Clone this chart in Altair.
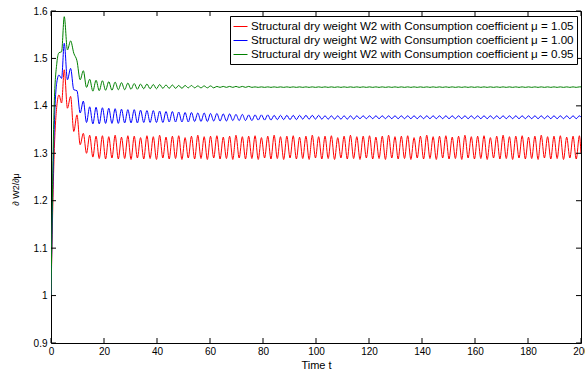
import altair as alt
import pandas as pd

# ---- data ----
labels = [
    "Structural dry weight W2 with Consumption coefficient \u03bc = 1.05",
    "Structural dry weight W2 with Consumption coefficient \u03bc = 1.00",
    "Structural dry weight W2 with Consumption coefficient \u03bc = 0.95",
]
colors = ["#ff0000", "#0000ff", "#008000"]

t = [0.0, 1.2, 2.2, 3.0, 4.0, 5.0, 6.2, 7.4, 8.6, 9.8, 11.0, 12.2,
     13.4, 14.6, 15.8, 17.0, 18.2, 19.4, 20.6, 21.8, 23.0, 24.2,
     25.4, 26.6, 27.8, 29.0, 30.2, 31.4, 32.6, 33.8, 35.0, 36.2,
     37.4, 38.6, 39.8, 41.0, 42.2, 43.4, 44.6, 45.8, 47.0, 48.2,
     49.4, 50.6, 51.8, 53.0, 54.2, 55.4, 56.6, 57.8, 59.0, 60.2,
     61.4, 62.6, 63.8, 65.0, 66.2, 67.4, 68.6, 69.8, 71.0, 72.2,
     73.4, 74.6, 75.8, 77.0, 78.2, 79.4, 80.6, 81.8, 83.0, 84.2,
     85.4, 86.6, 87.8, 89.0, 90.2, 91.4, 92.6, 93.8, 95.0, 96.2,
     97.4, 98.6, 99.8, 101.0, 102.2, 103.4, 104.6, 105.8, 107.0, 108.2,
     109.4, 110.6, 111.8, 113.0, 114.2, 115.4, 116.6, 117.8, 119.0, 120.2,
     121.4, 122.6, 123.8, 125.0, 126.2, 127.4, 128.6, 129.8, 131.0, 132.2,
     133.4, 134.6, 135.8, 137.0, 138.2, 139.4, 140.6, 141.8, 143.0, 144.2,
     145.4, 146.6, 147.8, 149.0, 150.2, 151.4, 152.6, 153.8, 155.0, 156.2,
     157.4, 158.6, 159.8, 161.0, 162.2, 163.4, 164.6, 165.8, 167.0, 168.2,
     169.4, 170.6, 171.8, 173.0, 174.2, 175.4, 176.6, 177.8, 179.0, 180.2,
     181.4, 182.6, 183.8, 185.0, 186.2, 187.4, 188.6, 189.8, 191.0, 192.2,
     193.4, 194.6, 195.8, 197.0, 198.2, 199.4, 200.0]

w_105 = [1.000, 1.300, 1.400, 1.423, 1.406, 1.476, 1.395, 1.420, 1.346, 1.381, 1.318, 1.342, 1.300,
         1.338, 1.292, 1.336, 1.289, 1.337, 1.288, 1.335, 1.290, 1.338, 1.288,
         1.334, 1.289, 1.337, 1.287, 1.336, 1.290, 1.333, 1.288, 1.337, 1.289,
         1.335, 1.287, 1.338, 1.290, 1.334, 1.288, 1.336, 1.289, 1.337, 1.287,
         1.333, 1.290, 1.336, 1.288, 1.338, 1.289, 1.335, 1.287, 1.336, 1.290,
         1.337, 1.288, 1.334, 1.289, 1.336, 1.287, 1.338, 1.290, 1.335, 1.288,
         1.336, 1.289, 1.337, 1.287, 1.333, 1.290, 1.336, 1.288, 1.338, 1.289,
         1.335, 1.287, 1.336, 1.290, 1.337, 1.288, 1.334, 1.289, 1.336, 1.287,
         1.338, 1.290, 1.335, 1.288, 1.336, 1.289, 1.337, 1.287, 1.333, 1.290,
         1.336, 1.288, 1.338, 1.289, 1.335, 1.287, 1.336, 1.290, 1.337, 1.288,
         1.334, 1.289, 1.336, 1.287, 1.338, 1.290, 1.335, 1.288, 1.336, 1.289,
         1.337, 1.287, 1.333, 1.290, 1.336, 1.288, 1.338, 1.289, 1.335, 1.287,
         1.336, 1.290, 1.337, 1.288, 1.334, 1.289, 1.336, 1.287, 1.338, 1.290,
         1.335, 1.288, 1.336, 1.289, 1.337, 1.287, 1.333, 1.290, 1.336, 1.288,
         1.338, 1.289, 1.335, 1.287, 1.336, 1.290, 1.337, 1.288, 1.334, 1.289,
         1.336, 1.287, 1.338, 1.290, 1.335, 1.288, 1.336, 1.289, 1.337, 1.287,
         1.334, 1.290, 1.336, 1.288, 1.337, 1.300]

w_100 = [1.000, 1.350, 1.450, 1.465, 1.458, 1.532, 1.455, 1.479, 1.434, 1.432, 1.385, 1.410, 1.365,
         1.398, 1.362, 1.397, 1.362, 1.396, 1.363, 1.395, 1.363, 1.394, 1.363,
         1.393, 1.364, 1.392, 1.364, 1.392, 1.364, 1.391, 1.365, 1.390, 1.365,
         1.390, 1.365, 1.389, 1.365, 1.388, 1.366, 1.388, 1.366, 1.387, 1.366,
         1.386, 1.366, 1.386, 1.367, 1.385, 1.367, 1.385, 1.367, 1.384, 1.368,
         1.384, 1.368, 1.383, 1.368, 1.383, 1.369, 1.382, 1.369, 1.382, 1.369,
         1.381, 1.369, 1.381, 1.370, 1.381, 1.370, 1.381, 1.370, 1.380, 1.371,
         1.380, 1.371, 1.380, 1.371, 1.380, 1.371, 1.380, 1.372, 1.380, 1.372,
         1.380, 1.372, 1.380, 1.372, 1.379, 1.372, 1.379, 1.372, 1.379, 1.372,
         1.379, 1.372, 1.379, 1.372, 1.379, 1.373, 1.379, 1.373, 1.379, 1.373,
         1.379, 1.373, 1.379, 1.373, 1.379, 1.373, 1.379, 1.373, 1.379, 1.373,
         1.379, 1.373, 1.379, 1.373, 1.379, 1.373, 1.379, 1.373, 1.379, 1.373,
         1.379, 1.373, 1.379, 1.373, 1.379, 1.373, 1.379, 1.373, 1.379, 1.373,
         1.379, 1.373, 1.379, 1.373, 1.379, 1.373, 1.379, 1.373, 1.379, 1.373,
         1.379, 1.373, 1.379, 1.373, 1.379, 1.373, 1.379, 1.373, 1.379, 1.373,
         1.379, 1.373, 1.379, 1.373, 1.379, 1.373, 1.379, 1.373, 1.379, 1.373,
         1.379, 1.373, 1.379, 1.373, 1.379, 1.376]

w_095 = [1.000, 1.400, 1.490, 1.512, 1.514, 1.588, 1.518, 1.537, 1.511, 1.495, 1.455, 1.474, 1.439,
         1.456, 1.431, 1.454, 1.432, 1.453, 1.433, 1.451, 1.433, 1.450, 1.434,
         1.449, 1.434, 1.448, 1.435, 1.447, 1.435, 1.446, 1.436, 1.446, 1.436,
         1.445, 1.436, 1.445, 1.437, 1.444, 1.437, 1.444, 1.437, 1.443, 1.437,
         1.443, 1.438, 1.443, 1.438, 1.442, 1.438, 1.442, 1.438, 1.442, 1.438,
         1.441, 1.439, 1.441, 1.439, 1.441, 1.439, 1.441, 1.439, 1.441, 1.439,
         1.441, 1.439, 1.440, 1.439, 1.440, 1.439, 1.440, 1.439, 1.440, 1.439,
         1.440, 1.439, 1.440, 1.439, 1.440, 1.439, 1.440, 1.439, 1.440, 1.439,
         1.440, 1.439, 1.440, 1.439, 1.440, 1.439, 1.440, 1.439, 1.440, 1.439,
         1.440, 1.439, 1.440, 1.439, 1.440, 1.439, 1.440, 1.439, 1.440, 1.439,
         1.440, 1.439, 1.440, 1.439, 1.440, 1.439, 1.440, 1.439, 1.440, 1.439,
         1.440, 1.439, 1.440, 1.439, 1.440, 1.439, 1.440, 1.439, 1.440, 1.439,
         1.440, 1.439, 1.440, 1.439, 1.440, 1.439, 1.440, 1.439, 1.440, 1.439,
         1.440, 1.439, 1.440, 1.439, 1.440, 1.439, 1.440, 1.439, 1.440, 1.439,
         1.440, 1.439, 1.440, 1.439, 1.440, 1.439, 1.440, 1.439, 1.440, 1.439,
         1.440, 1.439, 1.440, 1.439, 1.440, 1.439, 1.440, 1.439, 1.440, 1.439,
         1.440, 1.439, 1.440, 1.439, 1.440, 1.440]

x_ticks = [0, 20, 40, 60, 80, 100, 120, 140, 160, 180, 200]
y_ticks = [0.9, 1.0, 1.1, 1.2, 1.3, 1.4, 1.5, 1.6]

# ---- tables ----
rows = []
for lab, vals in zip(labels, [w_105, w_100, w_095]):
    for i, (tt, vv) in enumerate(zip(t, vals)):
        rows.append({"t": tt, "value": vv, "series": lab, "idx": i})
df = pd.DataFrame(rows)
xt = pd.DataFrame({"t": x_ticks})
yt = pd.DataFrame({"value": y_ticks})

FONT = "Liberation Sans"
W, H = 530, 332

xscale = alt.Scale(domain=[0, 200], nice=False, zero=False)
yscale = alt.Scale(domain=[0.9, 1.6], nice=False, zero=False)

lines = alt.Chart(df).mark_line(interpolate="monotone", strokeWidth=1, clip=True).encode(
    x=alt.X("t:Q", scale=xscale, title="Time t",
            axis=alt.Axis(values=x_ticks, format="d", ticks=False, domain=False, grid=False,
                          labelFont=FONT, labelFontSize=10, labelPadding=3, labelFlush=False,
                          labelColor="black", titleFont=FONT, titleFontSize=11,
                          titleFontWeight="normal", titleColor="black", titlePadding=3)),
    y=alt.Y("value:Q", scale=yscale, title="\u2202 W2/\u2202\u03bc",
            axis=alt.Axis(values=y_ticks, format="~g", ticks=False, domain=False, grid=False,
                          labelFont=FONT, labelFontSize=10, labelPadding=4, labelFlush=False,
                          labelColor="black", titleFont=FONT, titleFontSize=9,
                          titleFontWeight="normal", titleColor="black",
                          titleX=-36, titleY=178, titleAngle=270, titleBaseline="middle",
                          titleAlign="center")),
    color=alt.Color("series:N", title=None,
                    scale=alt.Scale(domain=labels, range=colors),
                    legend=alt.Legend(orient="none", legendX=179, legendY=5,
                                      labelFont=FONT, labelFontSize=11.6, labelColor="black",
                                      labelLimit=500, symbolType="stroke", symbolSize=196,
                                      symbolStrokeWidth=1, strokeColor="black",
                                      fillColor="white", padding=3, rowPadding=0,
                                      labelOffset=3, cornerRadius=0)),
    order="idx:Q",
)

bx = alt.Chart(xt).mark_rule(color="black", strokeWidth=1).encode(
    x=alt.X("t:Q", scale=xscale), y=alt.value(H), y2=alt.value(H - 5))
tx = alt.Chart(xt).mark_rule(color="black", strokeWidth=1).encode(
    x=alt.X("t:Q", scale=xscale), y=alt.value(0), y2=alt.value(5))
ly = alt.Chart(yt).mark_rule(color="black", strokeWidth=1).encode(
    y=alt.Y("value:Q", scale=yscale), x=alt.value(0), x2=alt.value(5))
ry = alt.Chart(yt).mark_rule(color="black", strokeWidth=1).encode(
    y=alt.Y("value:Q", scale=yscale), x=alt.value(W), x2=alt.value(W - 5))

chart = alt.layer(lines, bx, tx, ly, ry).properties(
    width=W, height=H,
    autosize=alt.AutoSizeParams(type="none"),
    padding={"left": 51, "top": 11, "right": 4, "bottom": 29},
    background="white",
).configure_view(stroke="black", strokeWidth=1)

chart.save("out.html", embed_options={"renderer": "svg", "actions": False})
